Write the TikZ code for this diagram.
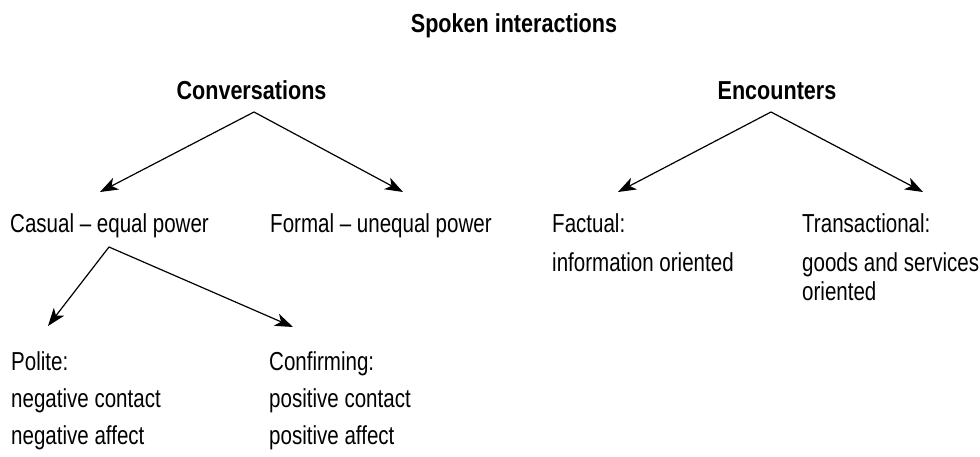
\documentclass[tikz,border=0pt]{standalone}
\usepackage{fontspec}
\setmainfont{Liberation Sans}[FakeStretch=0.79,BoldFeatures={FakeStretch=0.83}]
\usetikzlibrary{arrows.meta}

\begin{document}
\begin{tikzpicture}[
      x=1pt, y=-1pt,
      every node/.style = {inner sep=0pt, anchor=base west, font=\fontsize{26}{29}\selectfont},
      head/.style       = {anchor=base, font=\fontsize{26}{29}\selectfont\bfseries},
      branch/.style     = {draw, line width=1.2pt, -{Stealth[length=18pt,width=13pt,inset=5pt]}}
    ]
    \useasboundingbox (0,0) rectangle (980,457);

    \node (title) [head] at (514,33)    {Spoken interactions};
    \node (conv)  [head] at (251.5,100) {Conversations};
    \node (enc)   [head] at (777,100)   {Encounters};

    \node (casual)      at (10,233)                         {Casual \textendash{} equal power};
    \node (formal)      at (270,233)                        {Formal \textendash{} unequal power};
    \node (factual)     at (552,233)                        {Factual:};
    \node (factinfo)    at ([yshift=-38pt]factual.base west) {information oriented};
    \node (trans)       at (802,233)                        {Transactional:};
    \node (transgoods)  at ([yshift=-38pt]trans.base west)   {goods and services};
    \node (transorient) at ([yshift=-29pt]transgoods.base west) {oriented};

    \node (polite)      at (11,370)                          {Polite:};
    \node (polcontact)  at ([yshift=-37pt]polite.base west)     {negative contact};
    \node (polaffect)   at ([yshift=-37pt]polcontact.base west) {negative affect};
    \node (confirm)     at (269,370)                         {Confirming:};
    \node (concontact)  at ([yshift=-37pt]confirm.base west)    {positive contact};
    \node (conaffect)   at ([yshift=-37pt]concontact.base west) {positive affect};

    % forks under the parents, tips above the children
    \coordinate (convfork)   at (254,112);
    \coordinate (encfork)    at (771,112);
    \coordinate (casualfork) at (109,247);
    \coordinate (casualtip)  at (100,192);
    \coordinate (formaltip)  at (403,192);
    \coordinate (factualtip) at (618,192);
    \coordinate (transtip)   at (923,192);
    \coordinate (politetip)  at (48,326);
    \coordinate (confirmtip) at (293,327);

    \draw[branch] (convfork)   to (casualtip);
    \draw[branch] (convfork)   to (formaltip);
    \draw[branch] (encfork)    to (factualtip);
    \draw[branch] (encfork)    to (transtip);
    \draw[branch] (casualfork) to (politetip);
    \draw[branch] (casualfork) to (confirmtip);

  \end{tikzpicture}
\end{document}
